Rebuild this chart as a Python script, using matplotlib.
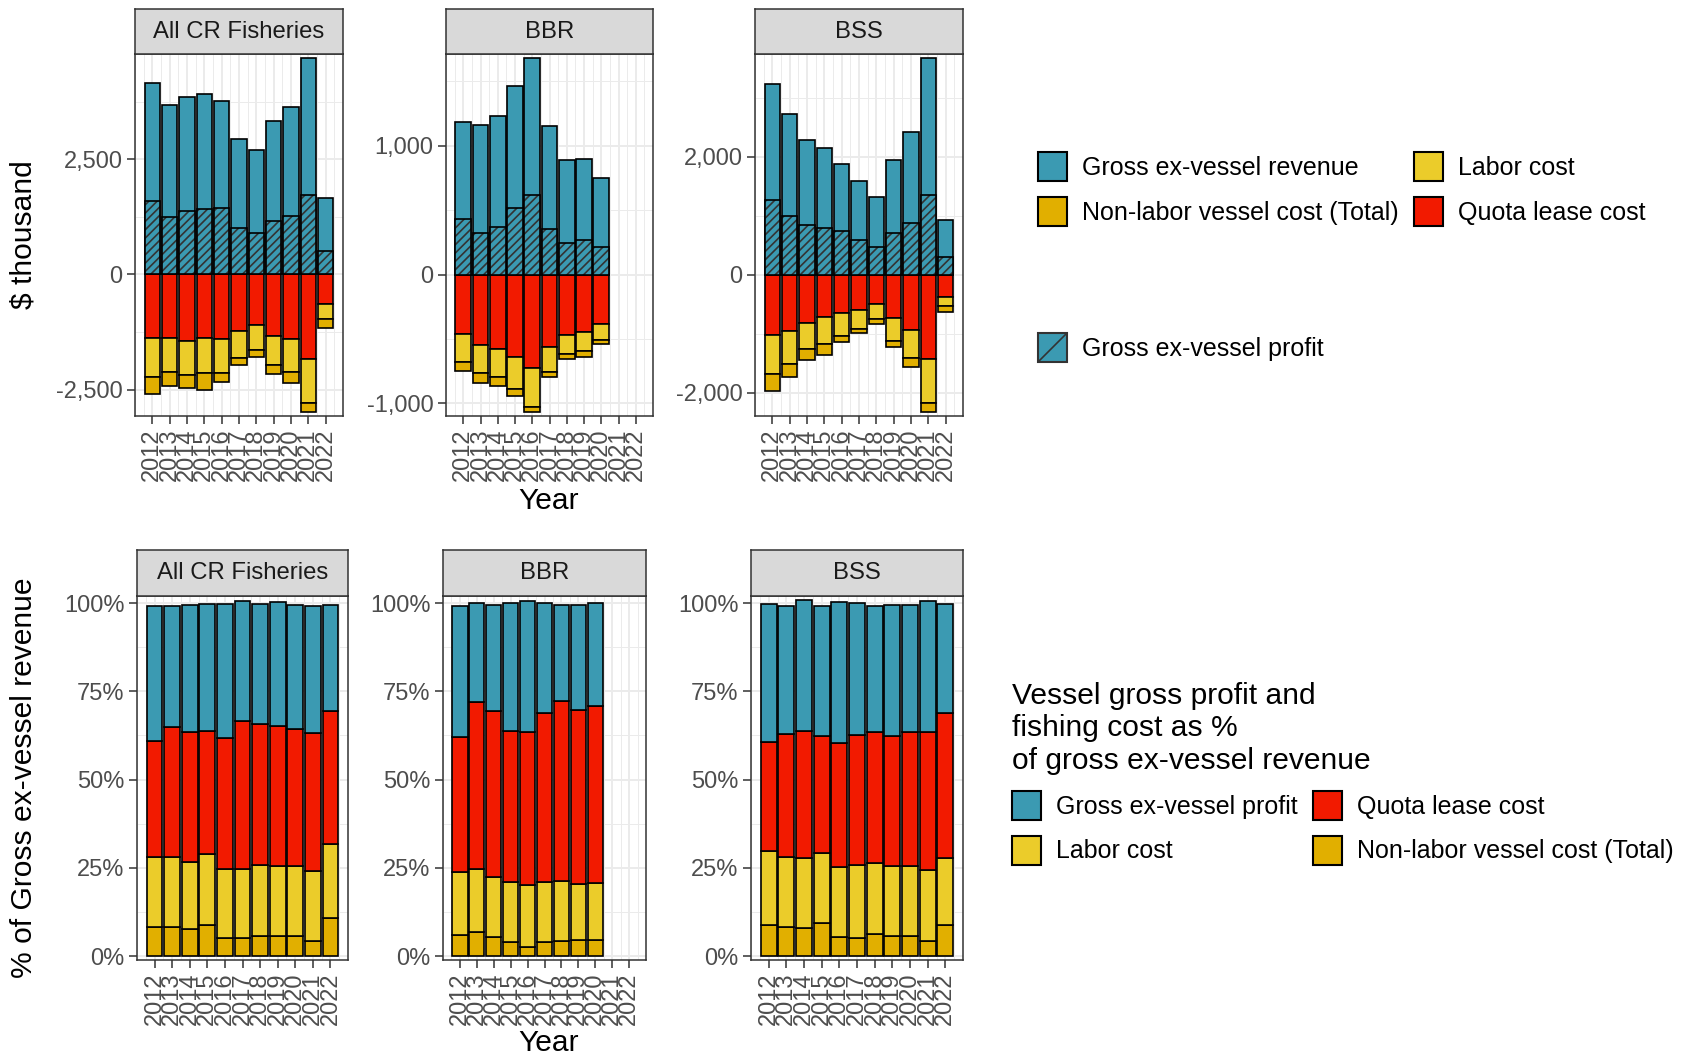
import numpy as np
import matplotlib
matplotlib.use("Agg")
import matplotlib.pyplot as plt
from matplotlib.patches import Patch
from matplotlib.ticker import FuncFormatter, PercentFormatter, MultipleLocator

plt.rcParams['font.family'] = ['Liberation Sans', 'DejaVu Sans']
plt.rcParams['axes.unicode_minus'] = False
plt.rcParams['hatch.linewidth'] = 1.2

years = list(range(2012, 2023))
bbr_years = years[:9]  # no BBR data for 2021-2022
fisheries = ['All CR Fisheries', 'BBR', 'BSS']

# ---- $ thousand (top row) ----
allcr_revenue = [4156, 3665, 3846, 3911, 3759, 2944, 2706, 3319, 3629, 4704, 1659]
allcr_profit = [1595, 1248, 1371, 1429, 1443, 996, 909, 1162, 1270, 1717, 505]
allcr_quota = [1385, 1385, 1436, 1385, 1400, 1227, 1097, 1335, 1400, 1833, 642]
allcr_labor = [844, 722, 743, 758, 728, 591, 541, 627, 721, 959, 332]
allcr_nonlabor = [361, 303, 274, 361, 195, 144, 144, 202, 224, 202, 180]

bbr_revenue = [1182, 1164, 1234, 1461, 1685, 1151, 893, 896, 751]
bbr_profit = [434, 323, 369, 519, 614, 356, 245, 266, 214]
bbr_quota = [462, 547, 581, 638, 728, 560, 470, 449, 387]
bbr_labor = [219, 214, 217, 252, 302, 194, 149, 145, 121]
bbr_nonlabor = [67, 83, 64, 57, 41, 38, 37, 44, 34]

bss_revenue = [3228, 2721, 2287, 2152, 1876, 1589, 1313, 1944, 2423, 3679, 930]
bss_profit = [1268, 986, 834, 794, 744, 586, 473, 710, 879, 1341, 299]
bss_quota = [1025, 958, 828, 727, 654, 603, 496, 744, 941, 1431, 383]
bss_labor = [660, 558, 440, 451, 383, 327, 265, 377, 479, 749, 158]
bss_nonlabor = [281, 225, 180, 185, 101, 67, 78, 113, 141, 158, 90]

# ---- % of gross ex-vessel revenue (bottom row) ----
allcr_pct_nonlabor = [8.3, 8.3, 7.8, 8.9, 5.2, 5.2, 5.8, 5.6, 5.6, 4.2, 10.8]
allcr_pct_labor = [19.9, 19.8, 18.8, 19.9, 19.6, 19.6, 20.1, 19.8, 19.8, 20.0, 20.9]
allcr_pct_quota = [32.8, 36.9, 36.9, 34.9, 37.0, 41.9, 39.9, 39.9, 39.0, 38.9, 37.8]
allcr_pct_profit = [38.1, 34.1, 35.9, 35.9, 37.8, 33.9, 33.9, 35.0, 35.0, 36.0, 29.9]

bbr_pct_nonlabor = [5.9, 6.9, 5.5, 4.0, 2.6, 4.0, 4.4, 4.5, 4.7]
bbr_pct_labor = [17.9, 17.9, 16.8, 16.9, 17.6, 16.9, 17.0, 16.0, 16.0]
bbr_pct_quota = [38.3, 47.2, 47.2, 42.9, 43.4, 48.1, 50.9, 49.2, 50.2]
bbr_pct_profit = [37.1, 28.1, 29.9, 36.2, 36.9, 31.0, 27.1, 29.8, 29.0]

bss_pct_nonlabor = [8.8, 8.3, 8.0, 9.4, 5.5, 5.1, 6.4, 5.7, 5.7, 4.4, 8.8]
bss_pct_labor = [20.9, 19.8, 19.8, 19.8, 19.8, 20.8, 20.0, 19.8, 19.8, 19.9, 19.0]
bss_pct_quota = [31.0, 34.9, 35.9, 33.1, 35.1, 36.8, 37.0, 36.8, 37.9, 39.1, 41.1]
bss_pct_profit = [39.0, 36.1, 37.1, 36.9, 39.9, 37.3, 35.9, 37.1, 36.0, 37.1, 30.8]

# colours (Zissou1)
c_rev = '#3B9AB2'
c_labor = '#EBCC2A'
c_nonlabor = '#E1AF00'
c_quota = '#F21A00'
c_hatch = '#333333'

W, H = 1682, 1056
fig = plt.figure(figsize=(W / 100, H / 100), dpi=100)


def rect(x0, y0, x1, y1):
    return [x0 / W, 1 - y1 / H, (x1 - x0) / W, (y1 - y0) / H]


def style_panel(ax, title, strip_box):
    ax.set_facecolor('white')
    ax.set_axisbelow(True)
    ax.set_xlim(2011.0, 2023.0)
    ax.set_xticks(years)
    ax.set_xticklabels([str(y) for y in years], rotation=90)
    ax.xaxis.set_minor_locator(MultipleLocator(0.5))
    ax.grid(which='major', color='#EBEBEB', lw=1.4)
    ax.grid(which='minor', color='#EBEBEB', lw=0.7)
    ax.tick_params(which='major', labelsize=17, labelcolor='#4D4D4D', color='#333333',
                   length=6, width=1.1, pad=3)
    ax.tick_params(which='minor', length=0)
    for s in ax.spines.values():
        s.set_color('#333333')
        s.set_linewidth(1.1)
    sax = fig.add_axes(rect(*strip_box))
    sax.set_facecolor('#D9D9D9')
    sax.set_xticks([])
    sax.set_yticks([])
    for s in sax.spines.values():
        s.set_color('#333333')
        s.set_linewidth(1.1)
    sax.text(0.5, 0.5, title, ha='center', va='center', fontsize=17.2, color='#1A1A1A',
             transform=sax.transAxes)


def draw_dollars(ax, yrs, revenue, profit, quota, labor, nonlabor, step):
    bw = dict(width=0.9, edgecolor='black', linewidth=1.2)
    ax.bar(yrs, revenue, color=c_rev, zorder=3, **bw)
    ax.bar(yrs, profit, width=0.9, color=c_rev, edgecolor=c_hatch, hatch='////', linewidth=0, zorder=4)
    ax.bar(yrs, profit, width=0.9, fill=False, edgecolor='black', linewidth=1.2, zorder=5)
    q = -np.array(quota, dtype=float)
    lab = -np.array(labor, dtype=float)
    nl = -np.array(nonlabor, dtype=float)
    ax.bar(yrs, q, color=c_quota, zorder=3, **bw)
    ax.bar(yrs, lab, bottom=q, color=c_labor, zorder=3, **bw)
    ax.bar(yrs, nl, bottom=q + lab, color=c_nonlabor, zorder=3, **bw)
    lo = (q + lab + nl).min()
    hi = max(revenue)
    span = hi - lo
    ax.set_ylim(lo - 0.01 * span, hi + 0.01 * span)
    ax.yaxis.set_major_locator(MultipleLocator(step))
    ax.yaxis.set_minor_locator(MultipleLocator(step / 2))
    ax.yaxis.set_major_formatter(FuncFormatter(lambda v, p: f"{v:,.0f}"))


def draw_pct(ax, yrs, nonlabor, labor, quota, profit):
    bw = dict(width=0.9, edgecolor='black', linewidth=1.2, zorder=3)
    nl = np.array(nonlabor)
    lab = np.array(labor)
    q = np.array(quota)
    ax.bar(yrs, nl, color=c_nonlabor, **bw)
    ax.bar(yrs, lab, bottom=nl, color=c_labor, **bw)
    ax.bar(yrs, q, bottom=nl + lab, color=c_quota, **bw)
    ax.bar(yrs, profit, bottom=nl + lab + q, color=c_rev, **bw)
    ax.set_ylim(-1.1, 102.0)
    ax.yaxis.set_major_locator(MultipleLocator(25))
    ax.yaxis.set_minor_locator(MultipleLocator(12.5))
    ax.yaxis.set_major_formatter(PercentFormatter(xmax=100, decimals=0))


top_x = [(135, 343), (446, 653), (755, 963)]
bot_x = [(137, 348), (443, 646), (751, 963)]

top_data = [
    (years, allcr_revenue, allcr_profit, allcr_quota, allcr_labor, allcr_nonlabor, 2500),
    (bbr_years, bbr_revenue, bbr_profit, bbr_quota, bbr_labor, bbr_nonlabor, 1000),
    (years, bss_revenue, bss_profit, bss_quota, bss_labor, bss_nonlabor, 2000),
]
bot_data = [
    (years, allcr_pct_nonlabor, allcr_pct_labor, allcr_pct_quota, allcr_pct_profit),
    (bbr_years, bbr_pct_nonlabor, bbr_pct_labor, bbr_pct_quota, bbr_pct_profit),
    (years, bss_pct_nonlabor, bss_pct_labor, bss_pct_quota, bss_pct_profit),
]

for i, name in enumerate(fisheries):
    x0, x1 = top_x[i]
    ax = fig.add_axes(rect(x0, 54, x1, 416))
    draw_dollars(ax, *top_data[i])
    style_panel(ax, name, (x0, 9, x1, 54))

    x0, x1 = bot_x[i]
    ax = fig.add_axes(rect(x0, 596, x1, 960))
    draw_pct(ax, *bot_data[i])
    style_panel(ax, name, (x0, 550, x1, 596))

# axis titles
fig.text(24 / W, 1 - 235 / H, r"\$ thousand", rotation=90, ha='center', va='center', fontsize=21.6)
fig.text(24 / W, 1 - 778 / H, "% of Gross ex-vessel revenue", rotation=90, ha='center', va='center',
         fontsize=21.6)
fig.text(549 / W, 1 - 501 / H, "Year", ha='center', va='center', fontsize=21.6)
fig.text(549 / W, 1 - 1043 / H, "Year", ha='center', va='center', fontsize=21.6)

# legends
def key(color, **kw):
    return Patch(facecolor=color, edgecolor='black', linewidth=1.5, **kw)


leg_kw = dict(frameon=False, fontsize=18, handlelength=1.16, handleheight=1.4,
              handletextpad=0.6, labelspacing=0.64, columnspacing=0.6,
              borderpad=0, borderaxespad=0, loc='upper left')

fig.legend(handles=[key(c_rev), key(c_nonlabor), key(c_labor), key(c_quota)],
           labels=['Gross ex-vessel revenue', 'Non-labor vessel cost (Total)', 'Labor cost',
                   'Quota lease cost'],
           ncol=2, bbox_to_anchor=(1038 / W, 1 - 152 / H), **leg_kw)

fig.legend(handles=[Patch(facecolor=c_rev, edgecolor=c_hatch, hatch='/', linewidth=1.5)],
           labels=['Gross ex-vessel profit'],
           bbox_to_anchor=(1038 / W, 1 - 333 / H), **leg_kw)

fig.legend(handles=[key(c_rev), key(c_labor), key(c_quota), key(c_nonlabor)],
           labels=['Gross ex-vessel profit', 'Labor cost', 'Quota lease cost',
                   'Non-labor vessel cost (Total)'],
           ncol=2, title='Vessel gross profit and\nfishing cost as %\nof gross ex-vessel revenue',
           title_fontsize=21.6, alignment='left', bbox_to_anchor=(1012 / W, 1 - 682 / H), **leg_kw)

fig.savefig('out.png', dpi=100)
